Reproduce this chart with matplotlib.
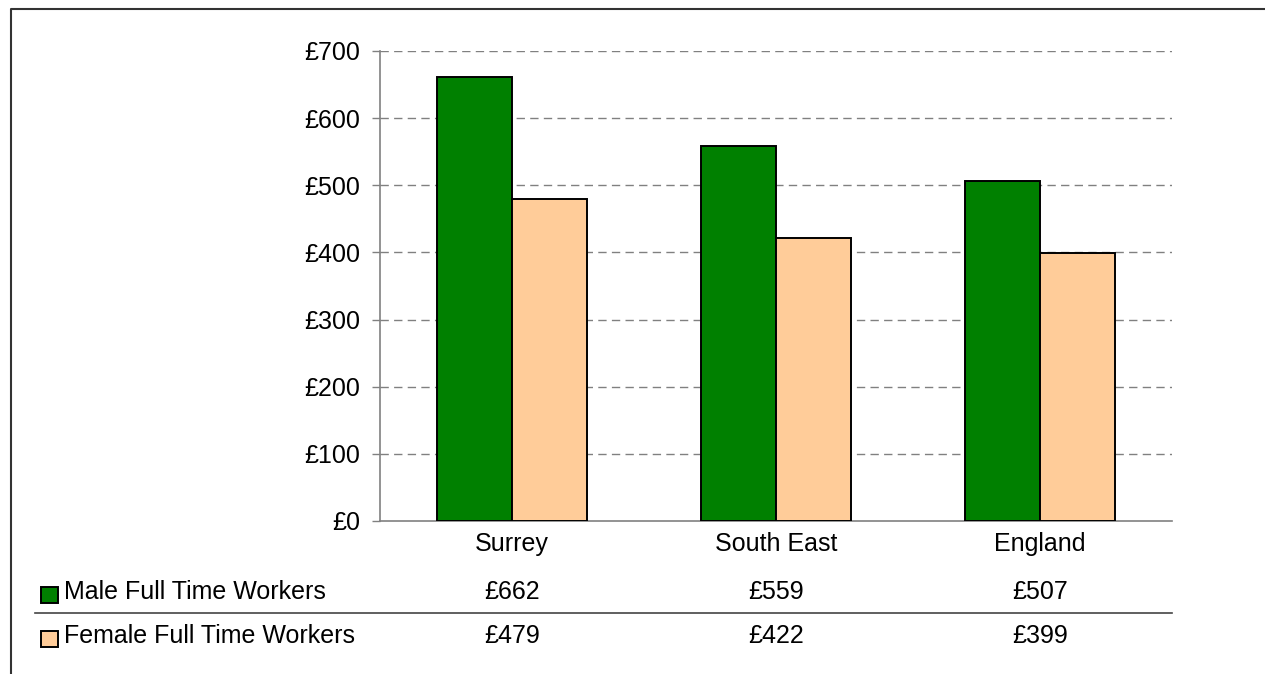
import numpy as np
import matplotlib.pyplot as plt
from matplotlib.lines import Line2D
from matplotlib.patches import Rectangle
from matplotlib.transforms import blended_transform_factory

plt.rcParams['font.family'] = ['Liberation Sans', 'DejaVu Sans']

regions = ['Surrey', 'South East', 'England']
male = [662, 559, 507]
female = [479, 422, 399]
series_names = ['Male Full Time Workers', 'Female Full Time Workers']
colours = ['#008000', '#FFCC99']
yticks = [0, 100, 200, 300, 400, 500, 600, 700]

W, H = 1265, 674
fs = 18
fig = plt.figure(figsize=(W / 100, H / 100), dpi=100)
ax = fig.add_axes([380 / W, 1 - 521 / H, (1172 - 380) / W, (521 - 51) / H])

x = np.arange(len(regions))
bw = 0.285
ax.bar(x - bw / 2, male, bw, color=colours[0], edgecolor='black', linewidth=1.4, zorder=3)
ax.bar(x + bw / 2, female, bw, color=colours[1], edgecolor='black', linewidth=1.4, zorder=3)

ax.set_xlim(-0.5, len(regions) - 0.5)
ax.set_ylim(0, 700)
ax.set_yticks(yticks)
ax.set_yticklabels(['£%d' % v for v in yticks])
ax.set_xticks(x)
ax.set_xticklabels(regions)
ax.tick_params(axis='y', length=6, width=1, color='#808080', pad=8, labelsize=fs)
ax.tick_params(axis='x', length=0, pad=8, labelsize=fs)

for v in yticks[1:]:
    ax.axhline(v, color='#808080', linewidth=1, dashes=(6, 3.8), zorder=1)

for side in ['top', 'right']:
    ax.spines[side].set_visible(False)
for side in ['left', 'bottom']:
    ax.spines[side].set_color('#808080')
    ax.spines[side].set_linewidth(1.2)

# data table under the chart
tr = blended_transform_factory(ax.transData, fig.transFigure)
rows_y = [1 - 592 / H, 1 - 636 / H]
box_y = [603, 647]
for row, vals in enumerate([male, female]):
    for xi, v in zip(x, vals):
        ax.text(xi, rows_y[row], '£%d' % v, transform=tr, ha='center', va='center', fontsize=fs)
    fig.text(64 / W, rows_y[row], series_names[row], ha='left', va='center', fontsize=fs)
    fig.patches.append(Rectangle((41 / W, 1 - box_y[row] / H), 17 / W, 16 / H,
                                 transform=fig.transFigure, facecolor=colours[row],
                                 edgecolor='black', linewidth=1.4))

fig.lines.append(Line2D([35 / W, 1172 / W], [1 - 613 / H] * 2, transform=fig.transFigure,
                        color='#444444', linewidth=1.2))

# chart border (left and top)
fig.lines.append(Line2D([11 / W, 11 / W, 1], [0, 1 - 9 / H, 1 - 9 / H], transform=fig.transFigure,
                        color='#333333', linewidth=1.5))

fig.savefig('out.png', dpi=100)
